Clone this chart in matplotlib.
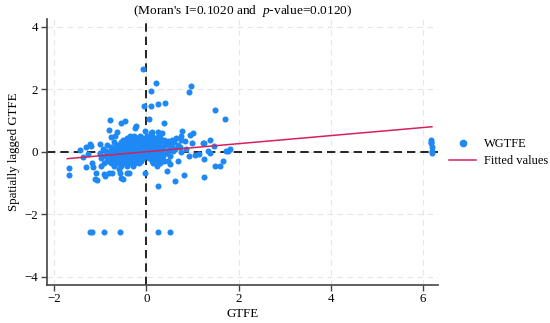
import matplotlib
matplotlib.use("Agg")
import matplotlib.pyplot as plt
from matplotlib.lines import Line2D

plt.rcParams["font.family"] = ["Liberation Serif", "DejaVu Serif"]
plt.rcParams["mathtext.fontset"] = "custom"
plt.rcParams["mathtext.rm"] = "Liberation Serif"
plt.rcParams["mathtext.it"] = "Liberation Serif:italic"

# scattered points
outlier_x = [-0.08, 0.21, 0.96, 0.93, 0.09, -0.06, 0.09, 0.24, 0.41, 1.48, 1.70, 0.06,
             -0.79, -0.47, -0.56, 0.37, -0.23, -0.25, -0.82, -0.63, -0.03, 0.78, 1.01,
             0.95, 0.76, 0.65, 0.26, 0.34, 0.28, 0.09, 0.11, -0.76, -0.69, 1.37, 1.22,
             1.26, 0.99, 0.84, 0.76, 0.55, 0.47, 1.47, 1.33, 1.37, 1.15, 1.05, 0.93, 0.74,
             1.82, 1.77, 1.73, 1.26, 1.48, 1.59, 1.66, 0.69, 0.50, 0.46, 0.44, 0.81, 0.63,
             1.26, 0.25, -0.03, -1.68, -1.69, -1.44, -1.32, -1.21, -1.22, -1.02, -1.37,
             -1.28, -1.32, -1.19, -1.16, -1.11, -1.07, -1.10, -0.93, -0.90, -0.75, -0.81,
             -0.60, -0.58, -0.56, -0.50, -0.43, -0.38, -0.98, -1.01,
             -1.22, -1.19, -0.92, -0.58, 0.26, 0.50,
             6.18, 6.19, 6.20, 6.21, 6.21, 6.17]
outlier_y = [2.64, 2.20, 2.09, 1.91, 1.95, 1.46, 1.46, 1.53, 1.57, 1.35, 1.05, 1.05,
             1.01, 0.99, 0.93, 0.91, 0.81, 0.77, 0.69, 0.64, 0.67, 0.65, 0.61,
             0.55, 0.49, 0.45, 0.64, 0.61, 0.53, 0.59, 0.62, 0.48, 0.52, 0.37, 0.29,
             0.27, 0.29, 0.33, 0.39, 0.39, 0.33, 0.18, 0.03, -0.05, -0.07, -0.10, -0.12, 0.00,
             0.09, 0.04, 0.02, -0.24, -0.46, -0.46, -0.28, -0.31, -0.39, -0.31, -0.63, -0.73, -0.94,
             -0.80, -1.10, -0.67, -0.53, -0.75, 0.07, 0.16, 0.18, 0.24, 0.24, -0.16,
             -0.07, -0.48, -0.37, -0.50, -0.88, -0.90, -0.69, -0.71, -0.78, -0.69, -0.67,
             -0.56, -0.69, -0.85, -0.88, -0.67, -0.67, -0.45, -0.07,
             -2.56, -2.56, -2.56, -2.56, -2.56, -2.56,
             0.37, 0.27, 0.16, 0.03, -0.05, 0.30]

# dense cluster around the origin, one row per lag level
cluster_rows = {
    0.50: [-0.35, -0.28, -0.15, 0.02, 0.12],
    0.45: [-0.42, -0.30, -0.20, -0.08, 0.05, 0.18, 0.30],
    0.38: [-0.50, -0.38, -0.25, -0.12, -0.02, 0.10, 0.22, 0.38],
    0.30: [-0.70, -0.55, -0.45, -0.33, -0.22, -0.10, 0.00, 0.08, 0.20, 0.30, 0.45, 0.60],
    0.22: [-0.85, -0.62, -0.48, -0.36, -0.28, -0.15, -0.05, 0.12, 0.25, 0.40, 0.52, 0.68],
    0.15: [-0.78, -0.66, -0.52, -0.40, -0.30, -0.18, -0.08, 0.03, 0.15, 0.28, 0.35, 0.55, 0.72],
    0.08: [-0.95, -0.72, -0.58, -0.45, -0.34, -0.24, -0.12, 0.06, 0.18, 0.32, 0.48, 0.62, 0.85],
    0.02: [-0.88, -0.76, -0.62, -0.50, -0.38, -0.27, -0.16, -0.05, 0.10, 0.22, 0.38, 0.58],
    -0.05: [-1.00, -0.82, -0.68, -0.55, -0.42, -0.30, -0.20, -0.10, 0.02, 0.14, 0.28, 0.45],
    -0.12: [-0.90, -0.74, -0.60, -0.47, -0.36, -0.25, -0.14, -0.04, 0.08, 0.20, 0.35, 0.52],
    -0.20: [-0.98, -0.80, -0.66, -0.52, -0.40, -0.30, -0.18, -0.07, 0.05, 0.18, 0.30],
    -0.28: [-0.86, -0.72, -0.58, -0.46, -0.34, -0.22, -0.12, 0.12, 0.25, 0.38],
    -0.36: [-0.92, -0.78, -0.64, -0.50, -0.38, -0.26, -0.16, 0.15, 0.30],
    -0.44: [-0.70, -0.55, -0.42, -0.30, 0.22],
}

fit_x = [-1.72, 6.20]
fit_y = [-0.22, 0.80]

title = "(Moran's I=0.1020 and  $\\mathit{p}$-value=0.0120)"
x_ticks = [-2, 0, 2, 4, 6]
y_ticks = [-4, -2, 0, 2, 4]

gtfe = list(outlier_x)
lagged = list(outlier_y)
for yv, xs in cluster_rows.items():
    gtfe += xs
    lagged += [yv] * len(xs)

point_color = "#1e88f5"
line_color = "#d6215b"

fig = plt.figure(figsize=(5.5, 3.23), dpi=100)
ax = fig.add_axes([0.0847, 0.1176, 0.7123, 0.825])

ax.scatter(gtfe, lagged, s=19, color=point_color, linewidths=0, zorder=3)
ax.plot(fit_x, fit_y, color=line_color, lw=1.1, zorder=4)
ax.axvline(0, color="black", ls=(0, (5, 3)), lw=1.2, zorder=2)
ax.axhline(0, color="black", ls=(0, (5, 3)), lw=1.2, zorder=2)

ax.set_xlim(-2.17, 6.34)
ax.set_ylim(-4.26, 4.26)
ax.set_xticks(x_ticks)
ax.set_yticks(y_ticks)
ax.set_xticklabels([str(t).replace("-", "\u2212") for t in x_ticks])
ax.set_yticklabels([str(t).replace("-", "\u2212") for t in y_ticks])
ax.grid(True, color="#e6e6e6", ls=(0, (5, 4)), lw=0.8)
ax.set_axisbelow(True)

for side in ["top", "right"]:
    ax.spines[side].set_visible(False)
for side in ["left", "bottom"]:
    ax.spines[side].set_color("#444444")
    ax.spines[side].set_linewidth(1.2)
ax.tick_params(direction="out", length=4, width=1, color="#444444", labelsize=9.3, pad=2)

ax.set_xlabel("GTFE", fontsize=9.3, labelpad=2)
ax.set_ylabel("Spatially lagged GTFE", fontsize=9.3, labelpad=3)
ax.set_title(title, fontsize=9.6, pad=2)

handles = [
    Line2D([], [], marker="o", ls="none", color=point_color, markersize=4.5),
    Line2D([], [], color=line_color, lw=1.1),
]
fig.legend(handles, ["WGTFE", "Fitted values"], loc="center left",
           bbox_to_anchor=(0.816, 0.528), frameon=False, fontsize=9,
           borderpad=0, borderaxespad=0,
           handlelength=2.2, handletextpad=0.65, labelspacing=0.4)

fig.savefig("out.png", dpi=100)
